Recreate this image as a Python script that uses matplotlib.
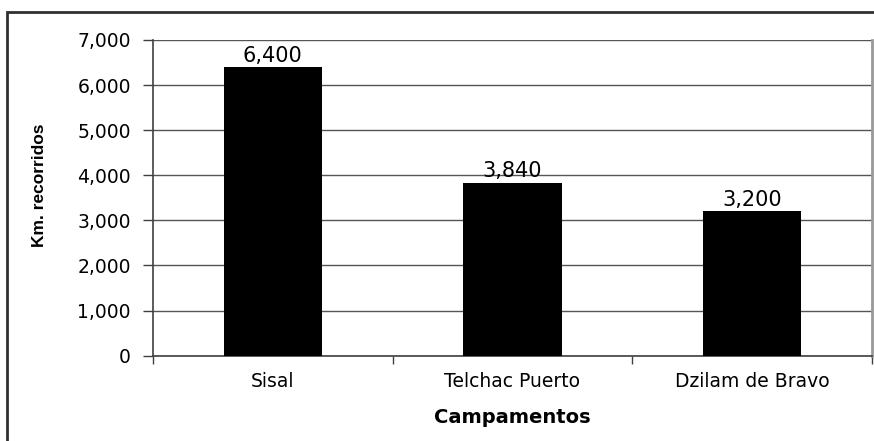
import matplotlib
matplotlib.use("Agg")
import matplotlib.pyplot as plt
from matplotlib.patches import Rectangle

categories = ["Sisal", "Telchac Puerto", "Dzilam de Bravo"]
values = [6400, 3840, 3200]
yticks = [0, 1000, 2000, 3000, 4000, 5000, 6000, 7000]

plt.rcParams['font.family'] = ['DejaVu Sans']

W, H = 874, 441
fig = plt.figure(figsize=(W/100, H/100), dpi=100)

# outer chart border (extends past image edges on right/bottom)
fig.patches.append(Rectangle((7/W, -0.05), 1.1, (H-12)/H + 0.05,
                             transform=fig.transFigure, fill=False,
                             edgecolor='#303030', linewidth=2))

left, right, top, bottom = 153, 872, 40, 355.7
ax = fig.add_axes([left/W, 1 - bottom/H, (right-left)/W, (bottom-top)/H])

x = list(range(len(categories)))
ax.bar(x, values, width=0.41, color='black', zorder=3)
ax.set_xlim(-0.5, len(categories) - 0.5)
ax.set_ylim(0, 7000)

ax.set_yticks(yticks)
ax.set_yticklabels([f"{v:,}" for v in yticks], fontsize=13.5)
ax.yaxis.grid(True, color='#555555', linewidth=1, zorder=0)
ax.set_axisbelow(True)

ax.set_xticks([i - 0.5 for i in range(len(categories) + 1)])
ax.set_xticklabels([])
ax.set_xticks(x, minor=True)
ax.set_xticklabels(categories, minor=True, fontsize=13.5)
ax.tick_params(axis='x', which='minor', length=0, pad=12)
ax.tick_params(axis='x', which='major', length=6, width=1, color='#404040')
ax.tick_params(axis='y', length=7, width=1, color='#404040', pad=9)

for s in ['left', 'bottom']:
    ax.spines[s].set_color('#404040')
    ax.spines[s].set_linewidth(1.2)
ax.spines['top'].set_visible(False)
ax.spines['right'].set_color('#999999')
ax.spines['right'].set_linewidth(2)

for xi, v in zip(x, values):
    ax.annotate(f"{v:,}", (xi, v), xytext=(0, 1), textcoords='offset points',
                ha='center', va='bottom', fontsize=15)

ax.set_xlabel("Campamentos", fontsize=14, fontweight='bold', va='top')
ax.xaxis.set_label_coords(0.5, (bottom - 408) / (bottom - top))
ax.set_ylabel("Km. recorridos", fontsize=12.5, fontweight='bold',
              family=['Liberation Sans', 'DejaVu Sans'])
ax.yaxis.set_label_coords((47 - left) / (right - left), (bottom - 185) / (bottom - top))

fig.savefig("out.png", dpi=100)
